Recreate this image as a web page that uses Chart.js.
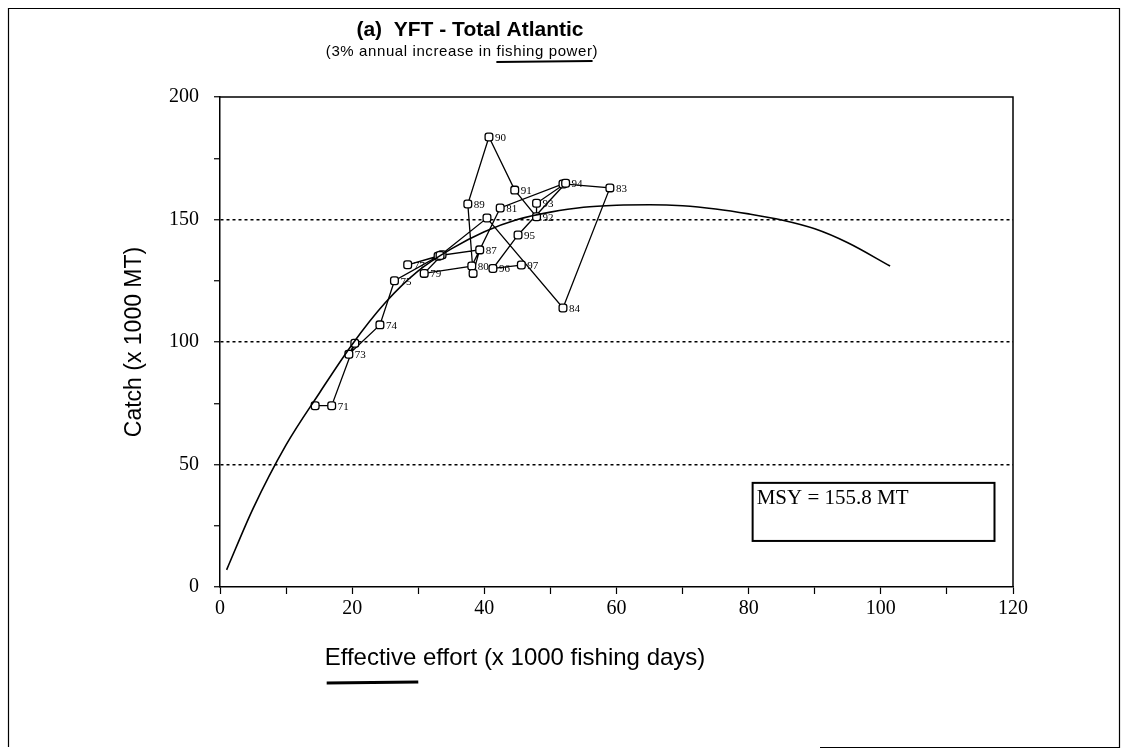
<!DOCTYPE html>
<html>
<head>
<meta charset="utf-8">
<script src="https://cdn.jsdelivr.net/npm/chart.js@4.4.1/dist/chart.umd.min.js"></script>
<style>
  html, body { margin: 0; padding: 0; background: #fff; }
  #wrap { position: relative; width: 1127px; height: 753px; }
</style>
</head>
<body>
<div id="wrap"><canvas id="chart"></canvas></div>
<script>
// observed effort / catch by year (1970-1997)
const yearLabels = ['', '71', '', '73', '74', '75', '', '77', '', '79', '80', '81', '', '83',
  '84', '', '', '87', '', '89', '90', '91', '92', '93', '94', '95', '96', '97']
const effort = [14.4, 16.9, 20.4, 19.5, 24.2, 26.4, 33.0, 28.4, 33.6, 30.9, 38.1, 42.4, 51.9, 59.0,
  51.9, 40.4, 33.3, 39.3, 38.3, 37.5, 40.7, 44.6, 47.9, 47.9, 52.3, 45.1, 41.3, 45.6]
const catchObs = [74, 74, 99.5, 95, 107, 125, 135, 131.5, 135.6, 128, 131, 154.7, 164.5, 162.9,
  113.9, 150.6, 135.3, 137.6, 128, 156.3, 183.7, 162, 151.1, 156.6, 164.8, 143.7, 130, 131.4]

// fitted production curve
const curveEffort = [1, 5, 10, 15, 20, 25, 30, 35, 40, 45, 50, 55, 60, 65, 70, 75, 80, 85, 90, 95, 101.4]
const curveCatch = [7, 32, 58, 79, 99, 116, 129, 138, 145, 150, 153, 155, 155.8, 156, 155.6, 154.3, 152.3, 149.8, 146.2, 140.5, 131]

const xTicks = [0, 20, 40, 60, 80, 100, 120]
const yTicks = [0, 50, 100, 150, 200]
const msyText = 'MSY = 155.8 MT'

const sans = '"Liberation Sans", Arial, sans-serif'
const serif = '"Liberation Serif", "Times New Roman", serif'

const decor = {
  id: 'decor',
  afterDatasetsDraw(chart) {
    const ctx = chart.ctx
    const meta = chart.getDatasetMeta(1)
    ctx.save()
    ctx.fillStyle = '#000'
    ctx.font = '11px ' + serif
    ctx.textBaseline = 'middle'
    meta.data.forEach((pt, i) => {
      if (yearLabels[i]) ctx.fillText(yearLabels[i], pt.x + 6, pt.y + 1)
    })
    ctx.restore()
  },
  afterDraw(chart) {
    const ctx = chart.ctx
    const a = chart.chartArea
    const xs = chart.scales.x, ys = chart.scales.y
    ctx.save()
    ctx.strokeStyle = '#000'
    ctx.fillStyle = '#000'

    // top and right edges of the plot box
    ctx.lineWidth = 1.5
    ctx.beginPath()
    ctx.moveTo(a.left, a.top)
    ctx.lineTo(a.right, a.top)
    ctx.lineTo(a.right, a.bottom)
    ctx.stroke()

    // MSY box
    const bx = xs.getPixelForValue(80.6), bx2 = xs.getPixelForValue(117.2)
    const by = ys.getPixelForValue(42.5), by2 = ys.getPixelForValue(18.8)
    ctx.lineWidth = 2
    ctx.strokeRect(bx, by, bx2 - bx, by2 - by)
    ctx.font = '21px ' + serif
    ctx.textBaseline = 'middle'
    ctx.textAlign = 'left'
    ctx.fillText(msyText, bx + 4, by + 16)

    // titles
    ctx.textAlign = 'center'
    ctx.font = 'bold 21px ' + sans
    ctx.fillText('(a)  YFT - Total Atlantic', 470, 30)
    ctx.font = '15px ' + sans
    ctx.letterSpacing = '0.6px'
    const sub = '(3% annual increase in fishing power)'
    ctx.fillText(sub, 462, 52)
    // pen underline under "fishing power"
    const subW = ctx.measureText(sub).width
    const pre = ctx.measureText('(3% annual increase in ').width
    const fp = ctx.measureText('fishing power').width
    ctx.letterSpacing = '0px'
    const ux = 462 - subW / 2 + pre
    ctx.lineWidth = 2
    ctx.beginPath()
    ctx.moveTo(ux, 62)
    ctx.lineTo(ux + fp, 61)
    ctx.stroke()

    // axis titles
    ctx.font = '24px ' + sans
    const xt = 'Effective effort (x 1000 fishing days)'
    ctx.fillText(xt, 515, 658)
    const xtW = ctx.measureText(xt).width
    const effW = ctx.measureText('Effective').width
    const ex = 515 - xtW / 2
    ctx.lineWidth = 3
    ctx.beginPath()
    ctx.moveTo(ex + 2, 683)
    ctx.lineTo(ex + effW + 2, 682)
    ctx.stroke()

    ctx.save()
    ctx.translate(135, 342)
    ctx.rotate(-Math.PI / 2)
    ctx.font = '23px ' + sans
    ctx.fillText('Catch (x 1000 MT)', 0, 0)
    ctx.restore()

    // outer frame
    ctx.lineWidth = 1.2
    ctx.beginPath()
    ctx.moveTo(8.5, 747)
    ctx.lineTo(8.5, 8.5)
    ctx.lineTo(1119.5, 8.5)
    ctx.lineTo(1119.5, 747.5)
    ctx.lineTo(820, 747.5)
    ctx.stroke()
    ctx.restore()
  }
}

new Chart(document.getElementById('chart'), {
  type: 'scatter',
  data: {
    datasets: [{
      label: 'fit',
      data: curveEffort.map((x, i) => ({ x: x, y: curveCatch[i] })),
      showLine: true,
      borderColor: '#000',
      borderWidth: 1.6,
      pointRadius: 0,
      cubicInterpolationMode: 'monotone',
    }, {
      label: 'observed',
      data: effort.map((x, i) => ({ x: x, y: catchObs[i] })),
      showLine: true,
      borderColor: '#000',
      borderWidth: 1.3,
      tension: 0,
      pointStyle: 'rectRounded',
      pointRadius: 4.5,
      pointBorderWidth: 1.3,
      pointBorderColor: '#000',
      pointBackgroundColor: '#fff',
    }]
  },
  options: {
    responsive: true,
    maintainAspectRatio: false,
    animation: false,
    layout: { padding: { left: 0, top: 97, right: 114, bottom: 0 } },
    plugins: { legend: { display: false }, tooltip: { enabled: false } },
    scales: {
      x: {
        type: 'linear',
        min: 0,
        max: 120,
        afterFit: s => { s.height = 166 },
        afterBuildTicks: s => { s.ticks = [0, 10, 20, 30, 40, 50, 60, 70, 80, 90, 100, 110, 120].map(v => ({ value: v })) },
        ticks: {
          color: '#000',
          padding: 3,
          maxRotation: 0,
          font: { family: serif, size: 20 },
          callback: v => xTicks.includes(v) ? String(v) : '',
        },
        grid: { drawOnChartArea: false, tickLength: 7, tickColor: '#000', tickWidth: 1.2 },
        border: { color: '#000', width: 1.5 },
      },
      y: {
        type: 'linear',
        min: 0,
        max: 200,
        afterFit: s => { s.width = 220 },
        afterBuildTicks: s => { s.ticks = [0, 25, 50, 75, 100, 125, 150, 175, 200].map(v => ({ value: v })) },
        ticks: {
          color: '#000',
          padding: 15,
          font: { family: serif, size: 20 },
          callback: v => yTicks.includes(v) ? String(v) : '',
        },
        grid: {
          color: c => [50, 100, 150].includes(c.tick.value) ? '#000' : 'rgba(0,0,0,0)',
          lineWidth: 1.5,
          tickLength: 6,
          tickColor: '#000',
          tickWidth: 1.2,
        },
        border: { color: '#000', width: 1.5, dash: [3, 3] },
      }
    }
  },
  plugins: [decor]
})
</script>
</body>
</html>
